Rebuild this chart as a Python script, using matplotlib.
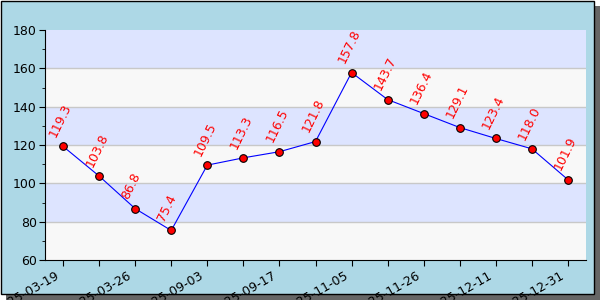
import matplotlib
matplotlib.use('Agg')
import matplotlib.pyplot as plt
import matplotlib.transforms as mtransforms
from matplotlib.patches import Rectangle
from matplotlib.ticker import MultipleLocator

# data
values = [119.3, 103.8, 86.8, 75.4, 109.5, 113.3, 116.5, 121.8,
          157.8, 143.7, 136.4, 129.1, 123.4, 118.0, 101.9]
date_labels = ['2025-03-19', '2025-03-26', '2025-09-03', '2025-09-17',
               '2025-11-05', '2025-11-26', '2025-12-11', '2025-12-31']

fig = plt.figure(figsize=(6, 3), dpi=100, facecolor='white')

# shadow + frame
fig.patches.append(Rectangle((6/600, 0), 594/600, 294/300, transform=fig.transFigure,
                             facecolor='#666666', edgecolor='none', zorder=-3))
fig.patches.append(Rectangle((0.5/600, 6/300), 593/600, 293.5/300, transform=fig.transFigure,
                             facecolor='#add8e6', edgecolor='black', linewidth=1, zorder=-2))

ax = fig.add_axes([45/600, 40/300, 541/600, 230/300])
ax.set_facecolor('none')

x = list(range(len(values)))
# alternating bands
for i, y0 in enumerate(range(60, 180, 20)):
    ax.axhspan(y0, y0 + 20, color='#f8f8f8' if i % 2 == 0 else '#dde4ff', zorder=0, lw=0)
for y0 in range(80, 180, 20):
    ax.axhline(y0, color='#c8c8c8', lw=1, zorder=1)

ax.plot(x, values, color='blue', lw=0.8, marker='o', markersize=5.5,
        markerfacecolor='red', markeredgecolor='black', markeredgewidth=0.8, zorder=3)
for xi, v in zip(x, values):
    ax.annotate(f'{v:.1f}', (xi, v), xytext=(-3, 5), textcoords='offset points',
                rotation=64, color='red', fontsize=9, ha='left', va='bottom',
                rotation_mode='anchor', zorder=4)

ax.set_xlim(-0.5, len(values) - 0.5)
ax.set_ylim(60, 180)
ax.set_yticks(range(60, 181, 20))
ax.yaxis.set_minor_locator(MultipleLocator(10))
ax.tick_params(axis='y', labelsize=9, pad=2)
ax.tick_params(direction='out', length=4)
ax.spines['top'].set_visible(False)
ax.spines['right'].set_visible(False)

ax.set_xticks(x)
ax.set_xticklabels([date_labels[i // 2] if i % 2 == 0 else '' for i in x],
                   rotation=30, ha='right', va='top', fontsize=9, rotation_mode='anchor')
shift = mtransforms.ScaledTranslation(-8/100, 1/100, fig.dpi_scale_trans)
for lab in ax.get_xticklabels():
    lab.set_transform(lab.get_transform() + shift)

fig.savefig('out.png', dpi=100, facecolor=fig.get_facecolor())
